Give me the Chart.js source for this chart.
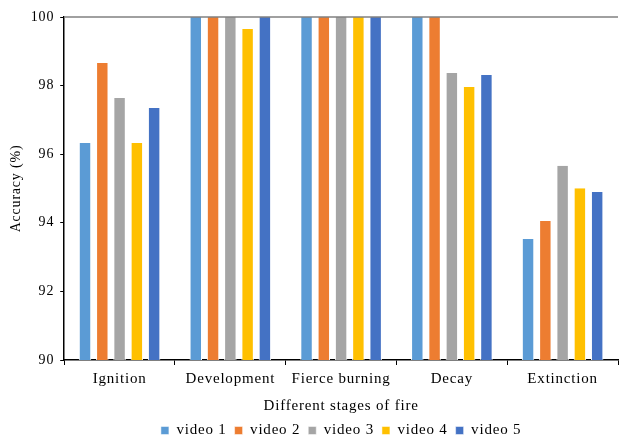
<!DOCTYPE html>
<html>
<head>
<meta charset="utf-8">
<script src="https://cdn.jsdelivr.net/npm/chart.js@4"></script>
<style>
  html, body { margin: 0; padding: 0; background: #fff; }
</style>
</head>
<body>
<canvas id="fireChart" width="622" height="435"></canvas>
<script>
// Stages of fire on the x axis
const stages = ['Ignition', 'Development', 'Fierce burning', 'Decay', 'Extinction'];

// Accuracy (%) per video, one value per stage
const video1 = [96.33, 100, 100, 100, 93.53];
const video2 = [98.66, 100, 100, 100, 94.05];
const video3 = [97.64, 100, 100, 98.37, 95.66];
const video4 = [96.33, 99.65, 100, 97.96, 95.01];
const video5 = [97.35, 100, 100, 98.31, 94.90];

const seriesNames = ['video 1', 'video 2', 'video 3', 'video 4', 'video 5'];
const yTicks = [90, 92, 94, 96, 98, 100];

const colors = ['#5B9BD5', '#ED7D31', '#A5A5A5', '#FFC000', '#4472C4'];
const serif = "'Liberation Serif', 'Times New Roman', serif";

// the original text is set a little wide, so spread the letters
const spacing = {
    id: 'spacing',
    beforeLayout(chart) { chart.ctx.letterSpacing = '0.8px'; },
    beforeDraw(chart) { chart.ctx.letterSpacing = '0.8px'; }
};

// pull the legend closer to the bottom edge
const legendFit = {
    id: 'legendFit',
    beforeInit(chart) {
        const fit = chart.legend.fit;
        chart.legend.fit = function () {
            fit.bind(chart.legend)();
            this.height -= 13;
        };
    }
};

// draws the gray frame line along the top of the plot area
const topLine = {
    id: 'topLine',
    afterDraw(chart) {
        const { ctx, chartArea } = chart;
        ctx.save();
        ctx.strokeStyle = '#808080';
        ctx.lineWidth = 1.5;
        ctx.beginPath();
        ctx.moveTo(chartArea.left, chartArea.top);
        ctx.lineTo(chartArea.right, chartArea.top);
        ctx.stroke();
        ctx.restore();
    }
};

const datasets = [video1, video2, video3, video4, video5].map((vals, i) => ({
    label: seriesNames[i],
    data: vals,
    backgroundColor: colors[i],
    borderColor: '#ffffff',
    borderWidth: { left: 1, right: 1 },
    borderSkipped: 'bottom',
    categoryPercentage: 0.78,
    barPercentage: 0.72
}));

const ctx = document.getElementById('fireChart').getContext('2d');
new Chart(ctx, {
    type: 'bar',
    data: { labels: stages, datasets: datasets },
    plugins: [spacing, legendFit, topLine],
    options: {
        responsive: false,
        animation: false,
        layout: { padding: { top: 17, right: 4, left: 8, bottom: 0 } },
        plugins: {
            tooltip: { enabled: false },
            legend: {
                position: 'bottom',
                fullSize: false,
                labels: {
                    boxWidth: 8,
                    boxHeight: 8,
                    padding: 8,
                    color: '#000',
                    font: { family: serif, size: 15 }
                }
            }
        },
        scales: {
            x: {
                grid: {
                    offset: true,
                    drawOnChartArea: false,
                    tickLength: 5,
                    color: '#000'
                },
                border: { color: '#000', width: 1.5 },
                ticks: {
                    color: '#000',
                    padding: 5,
                    maxRotation: 0,
                    font: { family: serif, size: 15 }
                },
                title: {
                    display: true,
                    text: 'Different stages of fire',
                    color: '#000',
                    padding: { top: 4, bottom: 0 },
                    font: { family: serif, size: 15 }
                }
            },
            y: {
                min: 90,
                max: 100,
                afterBuildTicks: (axis) => {
                    axis.ticks = yTicks.map(v => ({ value: v }));
                },
                grid: {
                    drawOnChartArea: false,
                    tickLength: 4,
                    color: '#000'
                },
                border: { color: '#000', width: 1.5 },
                ticks: {
                    color: '#000',
                    padding: 6,
                    font: { family: serif, size: 14 }
                },
                title: {
                    display: true,
                    text: 'Accuracy (%)',
                    color: '#000',
                    padding: { top: 0, bottom: 0 },
                    font: { family: serif, size: 14 }
                }
            }
        }
    }
});
</script>
</body>
</html>
